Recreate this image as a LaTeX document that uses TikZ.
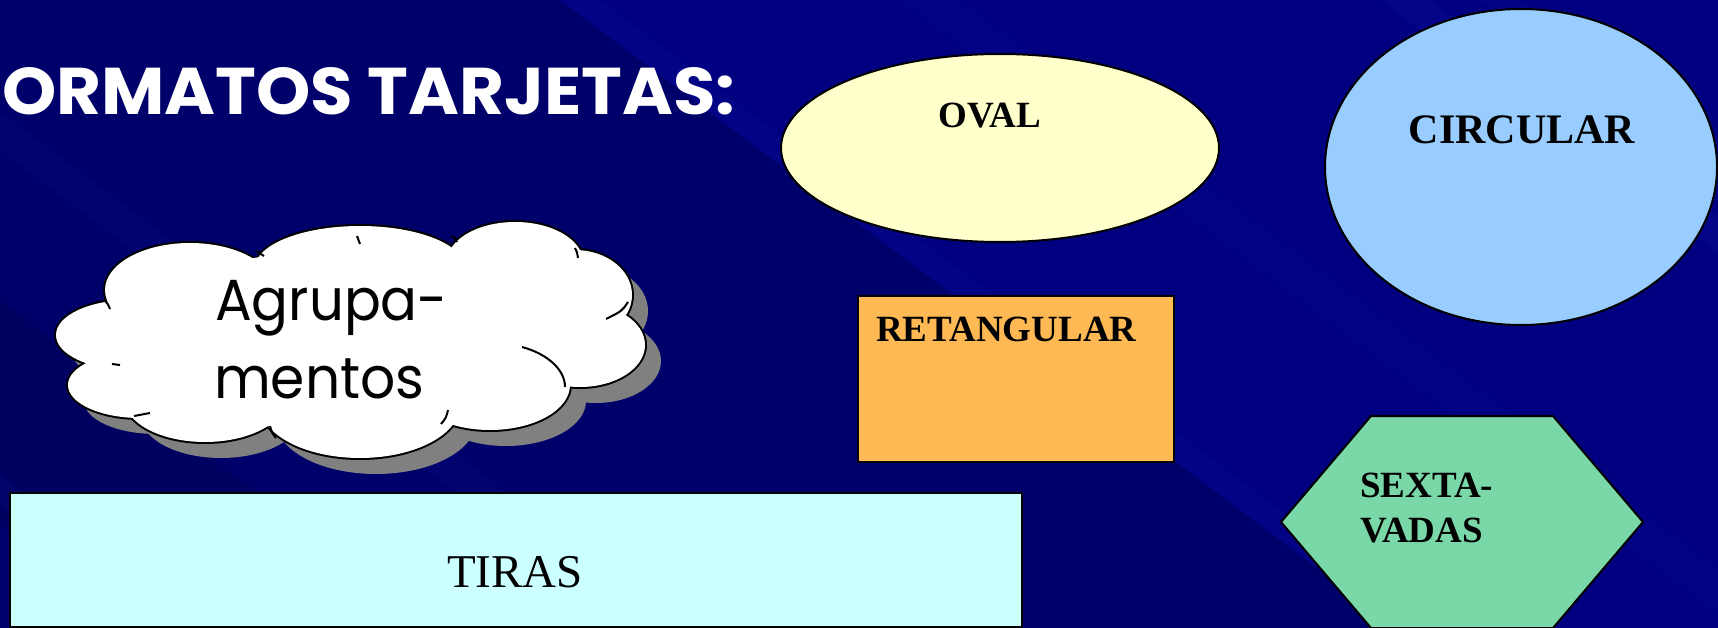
\documentclass[tikz,border=0pt]{standalone}
\usepackage{fontspec}
\usepackage{graphicx}
\setmainfont{Liberation Serif}
\newfontfamily\comicfont{Poppins}
\usetikzlibrary{shapes.geometric}
\definecolor{bgnavy}{HTML}{000080}
\definecolor{bgdark}{HTML}{00004A}
\definecolor{bglight}{HTML}{2020C0}
\definecolor{ovalfill}{HTML}{FFFFCC}
\definecolor{circfill}{HTML}{99CCFF}
\definecolor{rectfill}{HTML}{FFB954}
\definecolor{hexfill}{HTML}{7AD8A8}
\definecolor{tirasfill}{HTML}{CCFFFF}
\definecolor{shadowgray}{HTML}{808080}
\tikzset{
  shapeline/.style={draw=black, line width=2pt},
  lbl/.style={inner sep=0pt, font=\bfseries\fontsize{37}{45}\selectfont},
  cloudtxt/.style={inner sep=0pt, anchor=base west, font=\comicfont\fontsize{58}{78}\selectfont},
  cloudtick/.style={black, line width=2pt},
}
\def\cloudlobes{190/290/85/47, 360/268/105/42, 515/262/68/40, 575/295/57/45, 580/345/65/42, 490/385/80/45, 360/405/100/53, 205/400/80/42, 140/385/72/33, 130/335/74/35}
\begin{document}
\begin{tikzpicture}[x=1pt,y=-1pt]
\useasboundingbox (0,0) rectangle (1718,628);
\fill[bgnavy] (0,0) rectangle (1718,628);
\begin{scope}
\clip (0,0) rectangle (1718,628);
\fill[bgdark, opacity=0.4] (-700,0) -- (560,0) -- (1560,750) -- (300,750) -- cycle;
\fill[bgdark, opacity=0.3] (-900,150) -- (-200,150) -- (800,900) -- (100,900) -- cycle;
\fill[bglight, opacity=0.10] (560,0) -- (600,0) -- (1600,750) -- (1560,750) -- cycle;
\fill[bglight, opacity=0.08] (900,0) -- (960,0) -- (1960,750) -- (1900,750) -- cycle;
\fill[bglight, opacity=0.14] (1380,0) -- (1430,0) -- (2430,750) -- (2380,750) -- cycle;
\fill[bglight, opacity=0.10] (1480,0) -- (1520,0) -- (2520,750) -- (2480,750) -- cycle;
\fill[bglight, opacity=0.10] (-500,130) -- (-460,130) -- (540,880) -- (500,880) -- cycle;
\fill[bglight, opacity=0.08] (-200,0) -- (-150,0) -- (850,750) -- (800,750) -- cycle;
\end{scope}

% title
\node[anchor=base west, inner sep=0pt, text=white] (title) at (2,115)
  {\resizebox{733pt}{47pt}{\comicfont\bfseries ORMATOS TARJETAS:}};

% oval
\node[ellipse, shapeline, fill=ovalfill, minimum width=438pt, minimum height=188pt, inner sep=0pt, outer sep=0pt] (oval) at (1000,148) {};
\node[lbl, anchor=base] (ovaltxt) at (990,128) {OVAL};

% circle
\node[ellipse, shapeline, fill=circfill, minimum width=392pt, minimum height=316pt, inner sep=0pt, outer sep=0pt] (circ) at (1521,167) {};
\node[lbl, anchor=base, font=\bfseries\fontsize{42}{50}\selectfont] (circtxt) at (1522,144) {CIRCULAR};

% rectangle
\node[rectangle, shapeline, fill=rectfill, minimum width=316pt, minimum height=166pt, inner sep=0pt, outer sep=0pt] (rect) at (1016,379) {};
\node[lbl, anchor=base west] (recttxt) at (876,341) {RETANGULAR};

% hexagon
\coordinate (h1) at (1371,416);
\coordinate (h2) at (1553,416);
\coordinate (h3) at (1643,522);
\coordinate (h4) at (1553,628);
\coordinate (h5) at (1371,628);
\coordinate (h6) at (1281,522);
\filldraw[shapeline, fill=hexfill, line join=miter] (h1) -- (h2) -- (h3) -- (h4) -- (h5) -- (h6) -- cycle;
\node[lbl, anchor=base west] (hextxt1) at (1360,497) {SEXTA-};
\node[lbl, anchor=base west] (hextxt2) at (1360,542) {VADAS};

% tiras
\node[rectangle, shapeline, fill=tirasfill, minimum width=1012pt, minimum height=134pt, inner sep=0pt, outer sep=0pt] (tiras) at (516,560) {};
\node[anchor=base, inner sep=0pt, font=\fontsize{47}{56}\selectfont] (tirastxt) at (515,587) {TIRAS};

% cloud shadow
\begin{scope}[shift={(16,16)}]
\foreach \cx/\cy/\rx/\ry in \cloudlobes {
  \fill[shadowgray] (\cx,\cy) ellipse [x radius=\rx, y radius=\ry];
}
\end{scope}
% cloud outline
\foreach \cx/\cy/\rx/\ry in \cloudlobes {
  \draw[black, line width=4pt] (\cx,\cy) ellipse [x radius=\rx, y radius=\ry];
}
\foreach \cx/\cy/\rx/\ry in \cloudlobes {
  \fill[white] (\cx,\cy) ellipse [x radius=\rx, y radius=\ry];
}
\fill[white] (350,330) ellipse [x radius=220, y radius=80];
% inner arcs of the cloud
\draw[cloudtick] (628,302) .. controls (622,311) .. (606,319);
\draw[cloudtick] (522,347) .. controls (548,354) and (565,370) .. (565,387);
\draw[cloudtick] (441,424) .. controls (446,418) .. (448,410);
\draw[cloudtick] (276,438) .. controls (272,433) .. (270,426);
\draw[cloudtick] (357,236) .. controls (359,240) .. (360,244);
\draw[cloudtick] (452,236) .. controls (455,238) .. (457,242);
\draw[cloudtick] (575,248) .. controls (577,252) .. (578,258);
\draw[cloudtick] (104,300) .. controls (108,304) .. (110,309);
\draw[cloudtick] (112,364) .. controls (116,365) .. (120,365);
\draw[cloudtick] (134,416) .. controls (142,414) .. (150,413);
\draw[cloudtick] (256,251) .. controls (260,253) .. (264,256);
\node[cloudtxt] (agr1) at (215,320) {\scalebox{0.94}[1]{Agrupa-}};
\node[cloudtxt] (agr2) at (214,398) {\scalebox{0.95}[1]{mentos}};
\end{tikzpicture}
\end{document}
